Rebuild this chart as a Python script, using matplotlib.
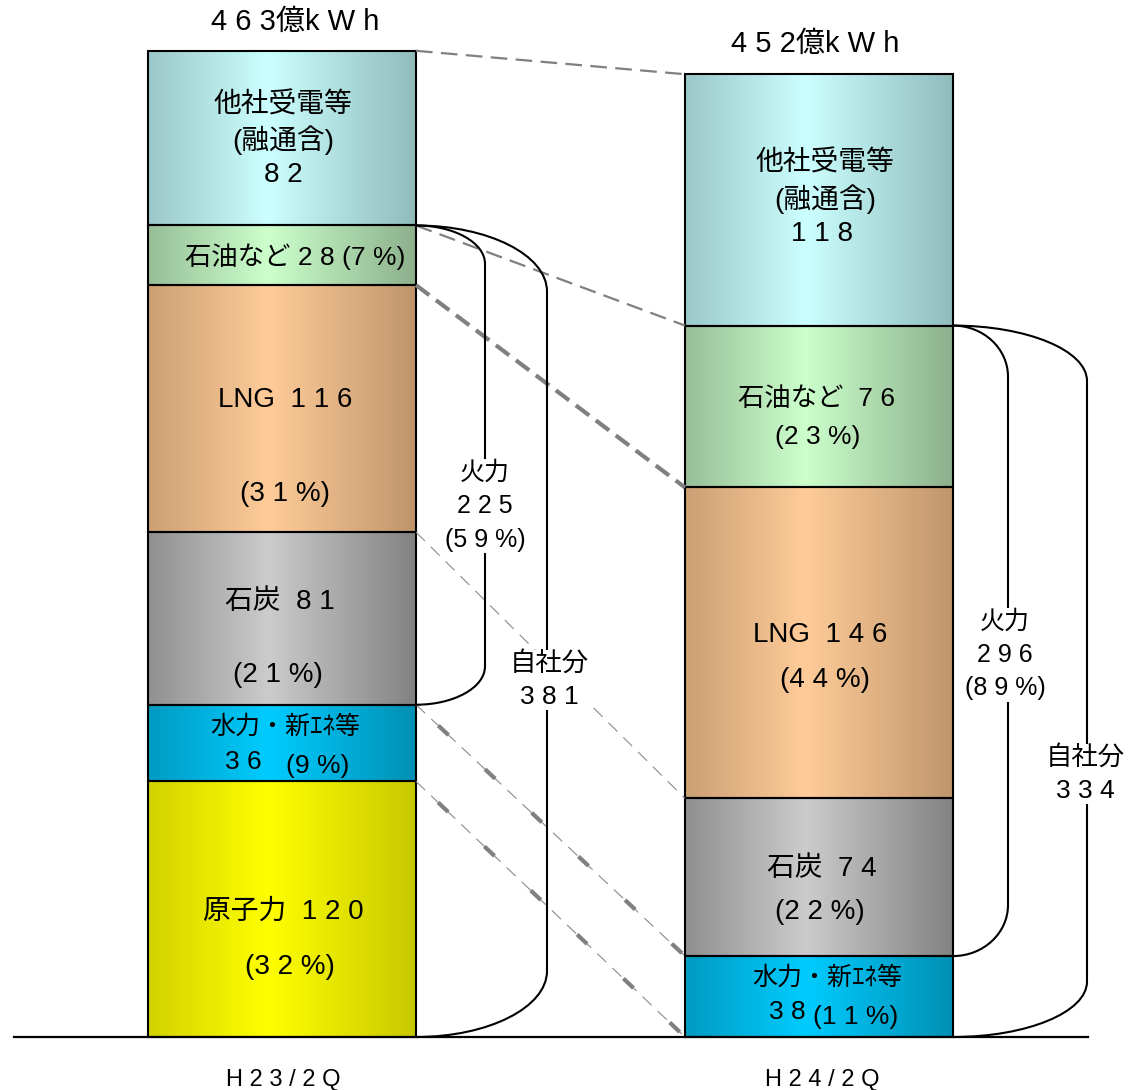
import numpy as np
import matplotlib
matplotlib.use("Agg")
import matplotlib.pyplot as plt
from matplotlib.path import Path
from matplotlib.patches import PathPatch

plt.rcParams['font.family'] = ['Liberation Sans', 'Noto Sans CJK JP', 'DejaVu Sans']
plt.rcParams['lines.scale_dashes'] = False

# ---- data ----
periods = ["H 2 3 / 2 Q", "H 2 4 / 2 Q"]
totals_label = ["4 6 3億k W h", "4 5 2億k W h"]
sources = ["原子力", "水力・新ｴﾈ等", "石炭", "LNG", "石油など", "他社受電等"]
h23 = [120, 36, 81, 116, 28, 82]
h24 = [0, 38, 74, 146, 76, 118]
thermal = [225, 296]
thermal_pct = ["(5 9 %)", "(8 9 %)"]
own = [381, 334]

edge_cols = ["#c8c800", "#0090b4", "#828282", "#c0956c", "#8cb08c", "#90bcbc"]
center_cols = ["#ffff00", "#00ccff", "#cccccc", "#ffcc99", "#ccffcc", "#ccffff"]

W, H = 1129, 1090
PX_PER_UNIT = 2.13
BASE_PY = 1037
fig = plt.figure(figsize=(W / 100, H / 100), dpi=100)
ax = fig.add_axes([0, 0, 1, 1])
XS = 537.0
ax.axis('off')

bw = 268 / XS
xpos = np.arange(2)
series = [h23, h24]


def hexrgb(c):
    c = c.lstrip('#')
    return np.array([int(c[i:i + 2], 16) for i in (0, 2, 4)]) / 255.0


t = np.linspace(0, 1, 256)
f = np.clip(1 - np.abs(t - 0.45) / 0.55, 0, 1)

for i, vals in enumerate(series):
    bottom = 0
    for j, v in enumerate(vals):
        if v > 0:
            e, c = hexrgb(edge_cols[j]), hexrgb(center_cols[j])
            grad = e[None, :] + (c - e)[None, :] * f[:, None]
            ax.imshow(grad[None, :, :], extent=[xpos[i] - bw / 2, xpos[i] + bw / 2, bottom, bottom + v],
                      aspect='auto', interpolation='bilinear', zorder=1)
            ax.bar(xpos[i], v, bw, bottom=bottom, facecolor='none', edgecolor='black', linewidth=1.5, zorder=2)
        bottom += v

ax.set_xlim(-282 / XS, (W - 282) / XS)
ax.set_ylim(-(H - BASE_PY) / PX_PER_UNIT, BASE_PY / PX_PER_UNIT)

# baseline
ax.plot([(14 - 282) / XS, (1088 - 282) / XS], [0, 0], color='black', lw=1.6, zorder=3)

# connecting dashed lines
cl = np.cumsum([0] + h23)
cr = np.cumsum([0] + h24)
xl, xr = xpos[0] + bw / 2, xpos[1] - bw / 2
styles = {6: 'med', 5: 'med', 4: 'thick', 3: 'thin', 2: 'mix', 1: 'mix'}
for k, st in styles.items():
    ys = [cl[k], cr[k]]
    if st == 'med':
        l, = ax.plot([xl, xr], ys, color='#808080', lw=1.6, zorder=3)
        l.set_dashes((12, 6))
    elif st == 'thick':
        l, = ax.plot([xl, xr], ys, color='#808080', lw=3.0, zorder=3)
        l.set_dashes((12, 6))
    else:
        l, = ax.plot([xl, xr], ys, color='#8a8a8a', lw=0.8, zorder=3)
        l.set_dashes((9, 6))
        if st == 'mix':
            l2, = ax.plot([xl, xr], ys, color='#808080', lw=3.0, zorder=3)
            l2.set_dashes((0, 22, 10, 14))

# brackets
K = 0.5523


def bracket(x0, x1, ytop, ybot, h):
    w = x1 - x0
    verts = [(x0, ytop), (x0 + K * w, ytop), (x1, ytop - h + K * h), (x1, ytop - h),
             (x1, ybot + h),
             (x1, ybot + h - K * h), (x0 + K * w, ybot), (x0, ybot)]
    codes = [Path.MOVETO, Path.CURVE4, Path.CURVE4, Path.CURVE4, Path.LINETO,
             Path.CURVE4, Path.CURVE4, Path.CURVE4]
    ax.add_patch(PathPatch(Path(verts, codes), facecolor='none', edgecolor='black', lw=1.5, zorder=3))


# left
bracket(xl, (485 - 282) / XS, cl[5], cl[2], 18)
bracket(xl, (547 - 282) / XS, cl[5], 0, 31)
# right
x0r = xpos[1] + bw / 2
bracket(x0r, (1008 - 282) / XS, cr[5], cr[2], 24)
bracket(x0r, (1087 - 282) / XS, cr[5], 0, 26)


def ftext(px, py, s, size=19, **kw):
    fig.text(px / W, 1 - py / H, s, ha='center', va='center', fontsize=size, **kw)


white = dict(facecolor='white', edgecolor='none', pad=1)

# bracket labels
ftext(485, 506, "火力\n2 2 5\n" + thermal_pct[0], 18, bbox=white, linespacing=1.5, zorder=5)
ftext(549, 680, "自社分\n3 8 1", 19, bbox=white, linespacing=1.45, zorder=5)
ftext(1005, 655, "火力\n2 9 6\n" + thermal_pct[1], 18, bbox=white, linespacing=1.5, zorder=5)
ftext(1085, 774, "自社分\n3 3 4", 19, bbox=white, linespacing=1.45, zorder=5)

# totals / period labels
ftext(295, 22, totals_label[0], 21)
ftext(815, 44, totals_label[1], 21)
ftext(283, 1080, periods[0], 17)
ftext(822, 1080, periods[1], 17)

# left bar labels
ftext(283, 105, "他社受電等", 20)
ftext(283, 140, "(融通含)", 20)
ftext(283, 175, "8 2", 20)
ftext(295, 257, "石油など 2 8 (7 %)", 19)
ftext(285, 400, "LNG  1 1 6", 20)
ftext(285, 494, "(3 1 %)", 20)
ftext(280, 602, "石炭  8 1", 20)
ftext(278, 675, "(2 1 %)", 20)
ftext(285, 727, "水力・新ｴﾈ等", 18)
ftext(243, 762, "3 6", 19)
ftext(318, 766, "(9 %)", 19)
ftext(283, 912, "原子力  1 2 0", 20)
ftext(290, 967, "(3 2 %)", 20)

# right bar labels
ftext(825, 163, "他社受電等", 20)
ftext(825, 199, "(融通含)", 20)
ftext(822, 234, "1 1 8", 20)
ftext(817, 399, "石油など  7 6", 19)
ftext(818, 437, "(2 3 %)", 19)
ftext(820, 635, "LNG  1 4 6", 20)
ftext(825, 680, "(4 4 %)", 20)
ftext(822, 869, "石炭  7 4", 20)
ftext(820, 912, "(2 2 %)", 20)
ftext(827, 978, "水力・新ｴﾈ等", 18)
ftext(787, 1012, "3 8", 19)
ftext(856, 1017, "(1 1 %)", 19)

fig.savefig("out.png", dpi=100)
